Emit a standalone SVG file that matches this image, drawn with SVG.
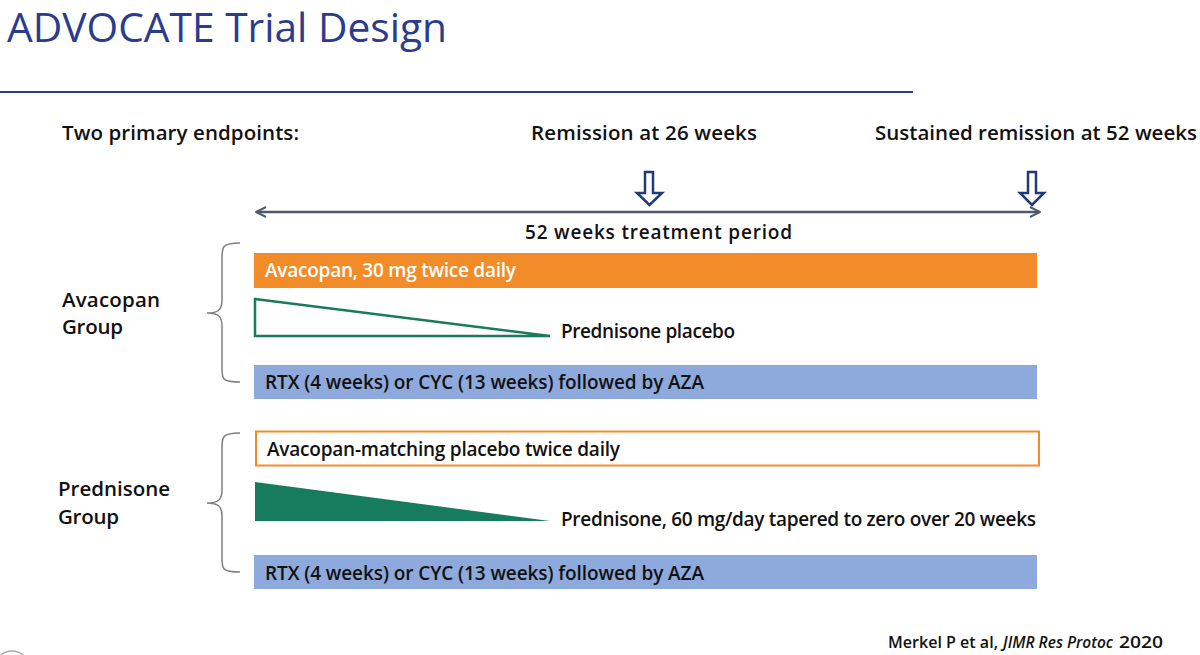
<svg xmlns="http://www.w3.org/2000/svg" width="1200" height="655" viewBox="0 0 1200 655">
<style>
.t{font-family:"Open Sans","Liberation Sans",sans-serif;font-weight:600;font-size:19px;fill:#111}
.h{font-size:20.5px}
.f{font-size:16px}
.w{fill:#fff}
.brace{fill:none;stroke:#7f7f7f;stroke-width:1.5}
.bar-blue{fill:#8EA9DB}
.tri{stroke:#1A7A5C;stroke-width:2.5;stroke-linejoin:miter}
.dn{fill:#fff;stroke:#1F3A7A;stroke-width:2.5;stroke-linejoin:miter}
</style>
<defs>
<marker id="ah" viewBox="0 0 12 12" refX="11" refY="6" markerWidth="12" markerHeight="12" markerUnits="userSpaceOnUse" orient="auto-start-reverse">
<path d="M1,1 L11,6 L1,11" fill="none" stroke="#4B5A6A" stroke-width="2"/>
</marker>
</defs>
<rect width="1200" height="655" fill="#fff"/>
<g id="title">
<text x="7" y="42" font-family="'Open Sans','Liberation Sans',sans-serif" font-size="40.5" fill="#2B3C8E" textLength="440" lengthAdjust="spacingAndGlyphs">ADVOCATE Trial Design</text>
<line x1="0" y1="92" x2="913" y2="92" stroke="#2B3C8E" stroke-width="2"/>
</g>
<g id="endpoints">
<text class="t h" x="62" y="140" textLength="237">Two primary endpoints:</text>
<text class="t h" x="531" y="140" textLength="226">Remission at 26 weeks</text>
<text class="t h" x="875" y="140" textLength="322">Sustained remission at 52 weeks</text>
</g>
<g id="arrows-down">
<path class="dn" d="M645,172 H653 V193 H662 L649.5,205 L637,193 H645 Z"/>
<path class="dn" d="M1028,172 H1036 V193 H1044 L1032,205 L1020,193 H1028 Z"/>
</g>
<g id="connectors">
<line x1="256" y1="212" x2="1040" y2="212" stroke="#4B5A6A" stroke-width="2.5" marker-start="url(#ah)" marker-end="url(#ah)"/>
</g>
<g id="period">
<text class="t" x="525" y="239" textLength="267">52 weeks treatment period</text>
</g>
<g id="avacopan-group">
<path class="brace" d="M240,243 C222,243 222,247 222,258 V300 C222,310 218,313 207,313 C218,313 222,316 222,326 V368 C222,379 222,382 240,382"/>
<text class="t h" x="62" y="307" textLength="98">Avacopan</text>
<text class="t h" x="62" y="334" textLength="61">Group</text>
</g>
<g id="avacopan-bar">
<rect x="254" y="253" width="783" height="35" fill="#F28C28"/>
<text class="t w" x="265" y="277" textLength="251">Avacopan, 30 mg twice daily</text>
</g>
<g id="prednisone-placebo">
<path class="tri" d="M255,299 L550,336 H255 Z" fill="#fff"/>
<text class="t" x="561" y="338" textLength="174">Prednisone placebo</text>
</g>
<g id="rtx-1">
<rect class="bar-blue" x="254" y="365" width="783" height="34"/>
<text class="t" x="265" y="389" textLength="439">RTX (4 weeks) or CYC (13 weeks) followed by AZA</text>
</g>
<g id="prednisone-group">
<path class="brace" d="M240,433 C222,433 222,437 222,448 V490 C222,500 218,503 207,503 C218,503 222,506 222,516 V558 C222,569 222,572 240,572"/>
<text class="t h" x="58" y="496" textLength="112">Prednisone</text>
<text class="t h" x="58" y="524" textLength="61">Group</text>
</g>
<g id="placebo-bar">
<rect x="256" y="431.5" width="783" height="34" fill="#fff" stroke="#F28C28" stroke-width="2"/>
<text class="t" x="267" y="456" textLength="353">Avacopan-matching placebo twice daily</text>
</g>
<g id="prednisone-taper">
<path d="M255,482 L550,521 H255 Z" fill="#177B5E"/>
<text class="t" x="561" y="526" textLength="475">Prednisone, 60 mg/day tapered to zero over 20 weeks</text>
</g>
<g id="rtx-2">
<rect class="bar-blue" x="254" y="555" width="783" height="34"/>
<text class="t" x="265" y="580" textLength="439">RTX (4 weeks) or CYC (13 weeks) followed by AZA</text>
</g>
<g id="footer">
<text class="t f" x="888" y="648" textLength="110" lengthAdjust="spacingAndGlyphs">Merkel P et al,</text>
<text class="t f" x="1003" y="648" font-style="italic" textLength="110" lengthAdjust="spacingAndGlyphs">JIMR Res Protoc</text>
<text class="t f" x="1119" y="648" textLength="44" lengthAdjust="spacingAndGlyphs">2020</text>
<circle cx="12" cy="668" r="17" fill="none" stroke="#aaa" stroke-width="1.5"/>
</g>
</svg>
